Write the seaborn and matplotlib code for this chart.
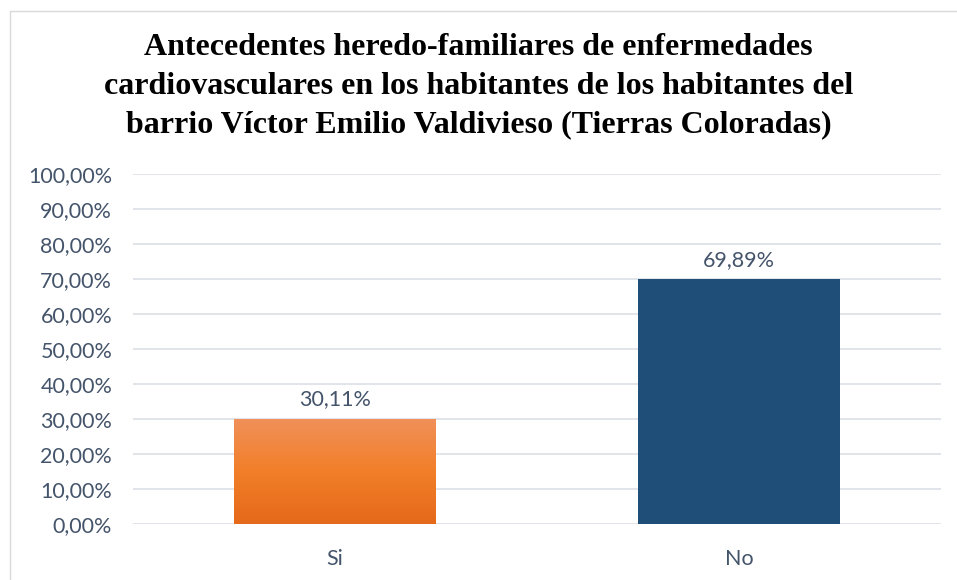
import numpy as np
import pandas as pd
import matplotlib
matplotlib.use("Agg")
import matplotlib.pyplot as plt
import seaborn as sns
from matplotlib.patches import Rectangle
from matplotlib.colors import LinearSegmentedColormap

categories = ["Si", "No"]
values = [30.11, 69.89]
bar_colors = ["#F07F2E", "#1F4E79"]
y_ticks = [0, 10, 20, 30, 40, 50, 60, 70, 80, 90, 100]
title = ("Antecedentes heredo-familiares de enfermedades\n"
         "cardiovasculares en los habitantes de los habitantes del\n"
         "barrio Víctor Emilio Valdivieso (Tierras Coloradas)")

sns.set_style("white")
text_color = "#44546A"
grid_color = "#DCDFE4"
tick_font = "Lato"
tick_size = 15.5

df = pd.DataFrame({"categoria": categories, "porcentaje": values})

fig = plt.figure(figsize=(9.57, 5.80), dpi=100)
ax = fig.add_axes([133 / 957, 1 - 524 / 580, (941 - 133) / 957, (524 - 174) / 580])

sns.barplot(data=df, x="categoria", y="porcentaje", hue="categoria",
            palette=bar_colors, width=0.5, ax=ax, legend=False, zorder=3,
            saturation=1, linewidth=0)

ax.set_ylim(0, 100)
ax.set_yticks(y_ticks)
ax.set_yticklabels([f"{v:.2f}%".replace(".", ",") for v in y_ticks],
                   fontsize=tick_size, color=text_color, family=tick_font)
ax.set_xticks(range(len(categories)))
ax.set_xticklabels(categories, fontsize=tick_size, color=text_color, family=tick_font)
ax.tick_params(axis="both", length=0)
ax.tick_params(axis="y", pad=15)
ax.tick_params(axis="x", pad=18)
ax.set_xlabel("")
ax.set_ylabel("")
for s in ax.spines.values():
    s.set_visible(False)
ax.yaxis.grid(True, color=grid_color, linewidth=1.2, zorder=0)
ax.set_axisbelow(True)

# Orange bar: vertical gradient, light at top and darker at the base
orange_cmap = LinearSegmentedColormap.from_list(
    "naranja", ["#E5691A", "#F27F29", "#F0905A"])
patch = ax.patches[0]
x0, y0 = patch.get_x(), patch.get_y()
w, h = patch.get_width(), patch.get_height()
grad = np.linspace(0, 1, 256).reshape(-1, 1)
img = ax.imshow(grad, cmap=orange_cmap, origin="lower", aspect="auto",
                extent=[x0, x0 + w, y0, y0 + h], zorder=3)
img.set_clip_path(patch)
patch.set_facecolor("none")
ax.set_xlim(-0.5, 1.5)

# Value labels above each bar
for i, v in enumerate(values):
    ax.text(i, v + 2.6, f"{v:.2f}%".replace(".", ","), ha="center", va="bottom",
            fontsize=tick_size, color=text_color, family=tick_font)

fig.text(0.5, 1 - 86 / 580, title, ha="center", va="center",
         fontsize=23, fontweight="bold", family="Liberation Serif",
         color="black", linespacing=1.42)

# Chart frame
frame = Rectangle((10 / 957, -0.05), 1.2, 1 - 11 / 580 + 0.05,
                  transform=fig.transFigure, fill=False,
                  edgecolor="#D9D9D9", linewidth=1.0)
fig.add_artist(frame)

fig.savefig("out.png", dpi=100, facecolor="white")
